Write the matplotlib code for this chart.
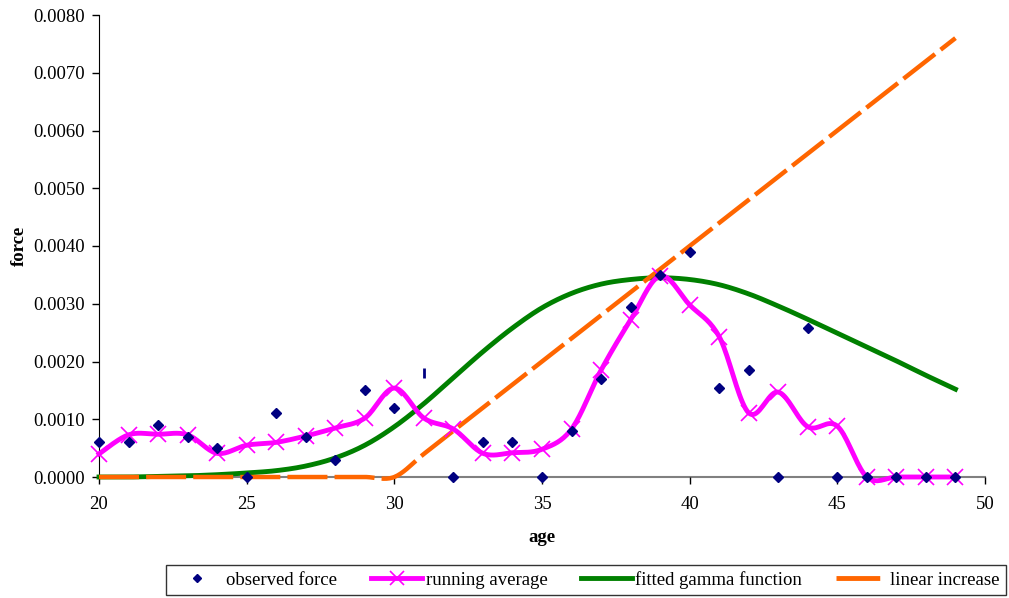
import numpy as np
import matplotlib
matplotlib.use('Agg')
import matplotlib.pyplot as plt
from matplotlib.lines import Line2D

plt.rcParams['font.family'] = ['Liberation Serif', 'DejaVu Serif']

age = list(range(20, 50))

observed = [0.0006, 0.0006, 0.0009, 0.0007, 0.0005, 0.0, 0.0011, 0.0007, 0.0003, 0.0015,
            0.0012, 0.0018, 0.0, 0.0006, 0.0006, 0.0, 0.0008, 0.0017, 0.00295, 0.0035,
            0.0039, 0.00154, 0.00185, 0.0, 0.00258, 0.0, 0.0, 0.0, 0.0, 0.0]

running_avg = [0.0004, 0.00073, 0.00074, 0.00073, 0.00041, 0.00055, 0.0006, 0.00071, 0.00085, 0.00102,
               0.00154, 0.00102, 0.00083, 0.00041, 0.00042, 0.00048, 0.00083, 0.00185, 0.00272, 0.00348,
               0.00298, 0.00243, 0.00111, 0.00147, 0.00087, 0.00088, 0.0, 0.0, 0.0, 0.0]

gamma_fit = [0.0, 0.0, 0.00001, 0.00002, 0.00004, 0.00007, 0.00011, 0.00019, 0.00033, 0.00055,
             0.00087, 0.00127, 0.00172, 0.00217, 0.00258, 0.00293, 0.00318, 0.00334, 0.00342, 0.00345,
             0.00342, 0.00333, 0.00317, 0.00296, 0.00273, 0.00249, 0.00225, 0.00201, 0.00176, 0.00152]

linear_inc = [0.0, 0.0, 0.0, 0.0, 0.0, 0.0, 0.0, 0.0, 0.0, 0.0,
              0.0, 0.0004, 0.0008, 0.0012, 0.0016, 0.002, 0.0024, 0.0028, 0.0032, 0.0036,
              0.004, 0.0044, 0.0048, 0.0052, 0.0056, 0.006, 0.0064, 0.0068, 0.0072, 0.0076]


def smooth(x, y, n=20):
    # Excel style smoothed line: bezier segments with catmull-rom tangents
    x = np.asarray(x, float)
    y = np.asarray(y, float)
    px = np.concatenate([[x[0]], x, [x[-1]]])
    py = np.concatenate([[y[0]], y, [y[-1]]])
    t = np.linspace(0, 1, n)
    xs, ys = [], []
    for i in range(len(x) - 1):
        p0 = np.array([px[i + 1], py[i + 1]])
        p3 = np.array([px[i + 2], py[i + 2]])
        p1 = p0 + (p3 - np.array([px[i], py[i]])) / 6
        p2 = p3 - (np.array([px[i + 3], py[i + 3]]) - p0) / 6
        b = ((1 - t) ** 3)[:, None] * p0 + (3 * (1 - t) ** 2 * t)[:, None] * p1 \
            + (3 * (1 - t) * t ** 2)[:, None] * p2 + (t ** 3)[:, None] * p3
        xs.extend(b[:, 0])
        ys.extend(b[:, 1])
    return np.array(xs), np.array(ys)


fig = plt.figure(figsize=(10.09, 5.98), dpi=100)
ax = fig.add_axes([99 / 1009, 1 - 477 / 598, 886 / 1009, 462 / 598])

# fitted gamma
sx, sy = smooth(age, gamma_fit)
ax.plot(sx, sy, color='#008000', lw=3.5, zorder=3, clip_on=False)
# linear increase
sx, sy = smooth(age, linear_inc)
ax.plot(sx, sy, color='#FF6600', lw=3.2, dashes=(9, 1.6), solid_capstyle='butt',
        zorder=3.5, clip_on=False)
# running average
sx, sy = smooth(age, running_avg)
ax.plot(sx, sy, color='#FF00FF', lw=3.5, zorder=4, clip_on=False)
ax.plot(age, running_avg, ls='none', marker='x', ms=11, mew=1.2, color='#FF00FF',
        zorder=4, clip_on=False)
# observed
obs = np.array(observed)
ages = np.array(age)
m = ages != 31
ax.plot(ages[m], obs[m], ls='none', marker='D', ms=5.5, color='#000080', zorder=5, clip_on=False)
ax.plot(ages[~m], obs[~m], ls='none', marker='|', ms=7, mew=2, color='#000080', zorder=5)

ax.set_xlim(20, 50)
ax.set_ylim(0, 0.008)
ax.set_xticks(range(20, 51, 5))
yt = np.arange(0, 0.0081, 0.001)
ax.set_yticks(yt)
ax.set_yticklabels(['%.4f' % v for v in yt])
ax.tick_params(labelsize=13.5, direction='out', length=5, width=1, colors='black')
ax.tick_params(axis='x', pad=9)
ax.tick_params(axis='y', pad=5)
ax.spines['top'].set_visible(False)
ax.spines['right'].set_visible(False)
ax.spines['bottom'].set_color('#808080')
ax.spines['bottom'].set_linewidth(1.5)
ax.spines['bottom'].set_zorder(1)
ax.set_xlabel('age', fontsize=13.5, fontweight='bold', labelpad=11)
ax.set_ylabel('force', fontsize=13.5, fontweight='bold', labelpad=4)

handles = [
    Line2D([], [], ls='none', marker='D', ms=4, color='#000080'),
    Line2D([], [], color='#FF00FF', lw=3.5, marker='x', ms=10, mew=1.2),
    Line2D([], [], color='#008000', lw=3.5),
    Line2D([], [], color='#FF6600', lw=3.5, dashes=(9, 2)),
]
labels = ['observed force', 'running average', 'fitted gamma function', 'linear increase']
leg = fig.legend(handles, labels, loc='center', ncol=4,
                 bbox_to_anchor=(586 / 1009, 1 - 580 / 598),
                 fontsize=13.5, frameon=True, fancybox=False, handlelength=2.7,
                 handletextpad=0.2, columnspacing=1.8, borderpad=0.3, borderaxespad=0)
leg.get_frame().set_edgecolor('black')
leg.get_frame().set_linewidth(1)

fig.savefig('out.png', dpi=100)
